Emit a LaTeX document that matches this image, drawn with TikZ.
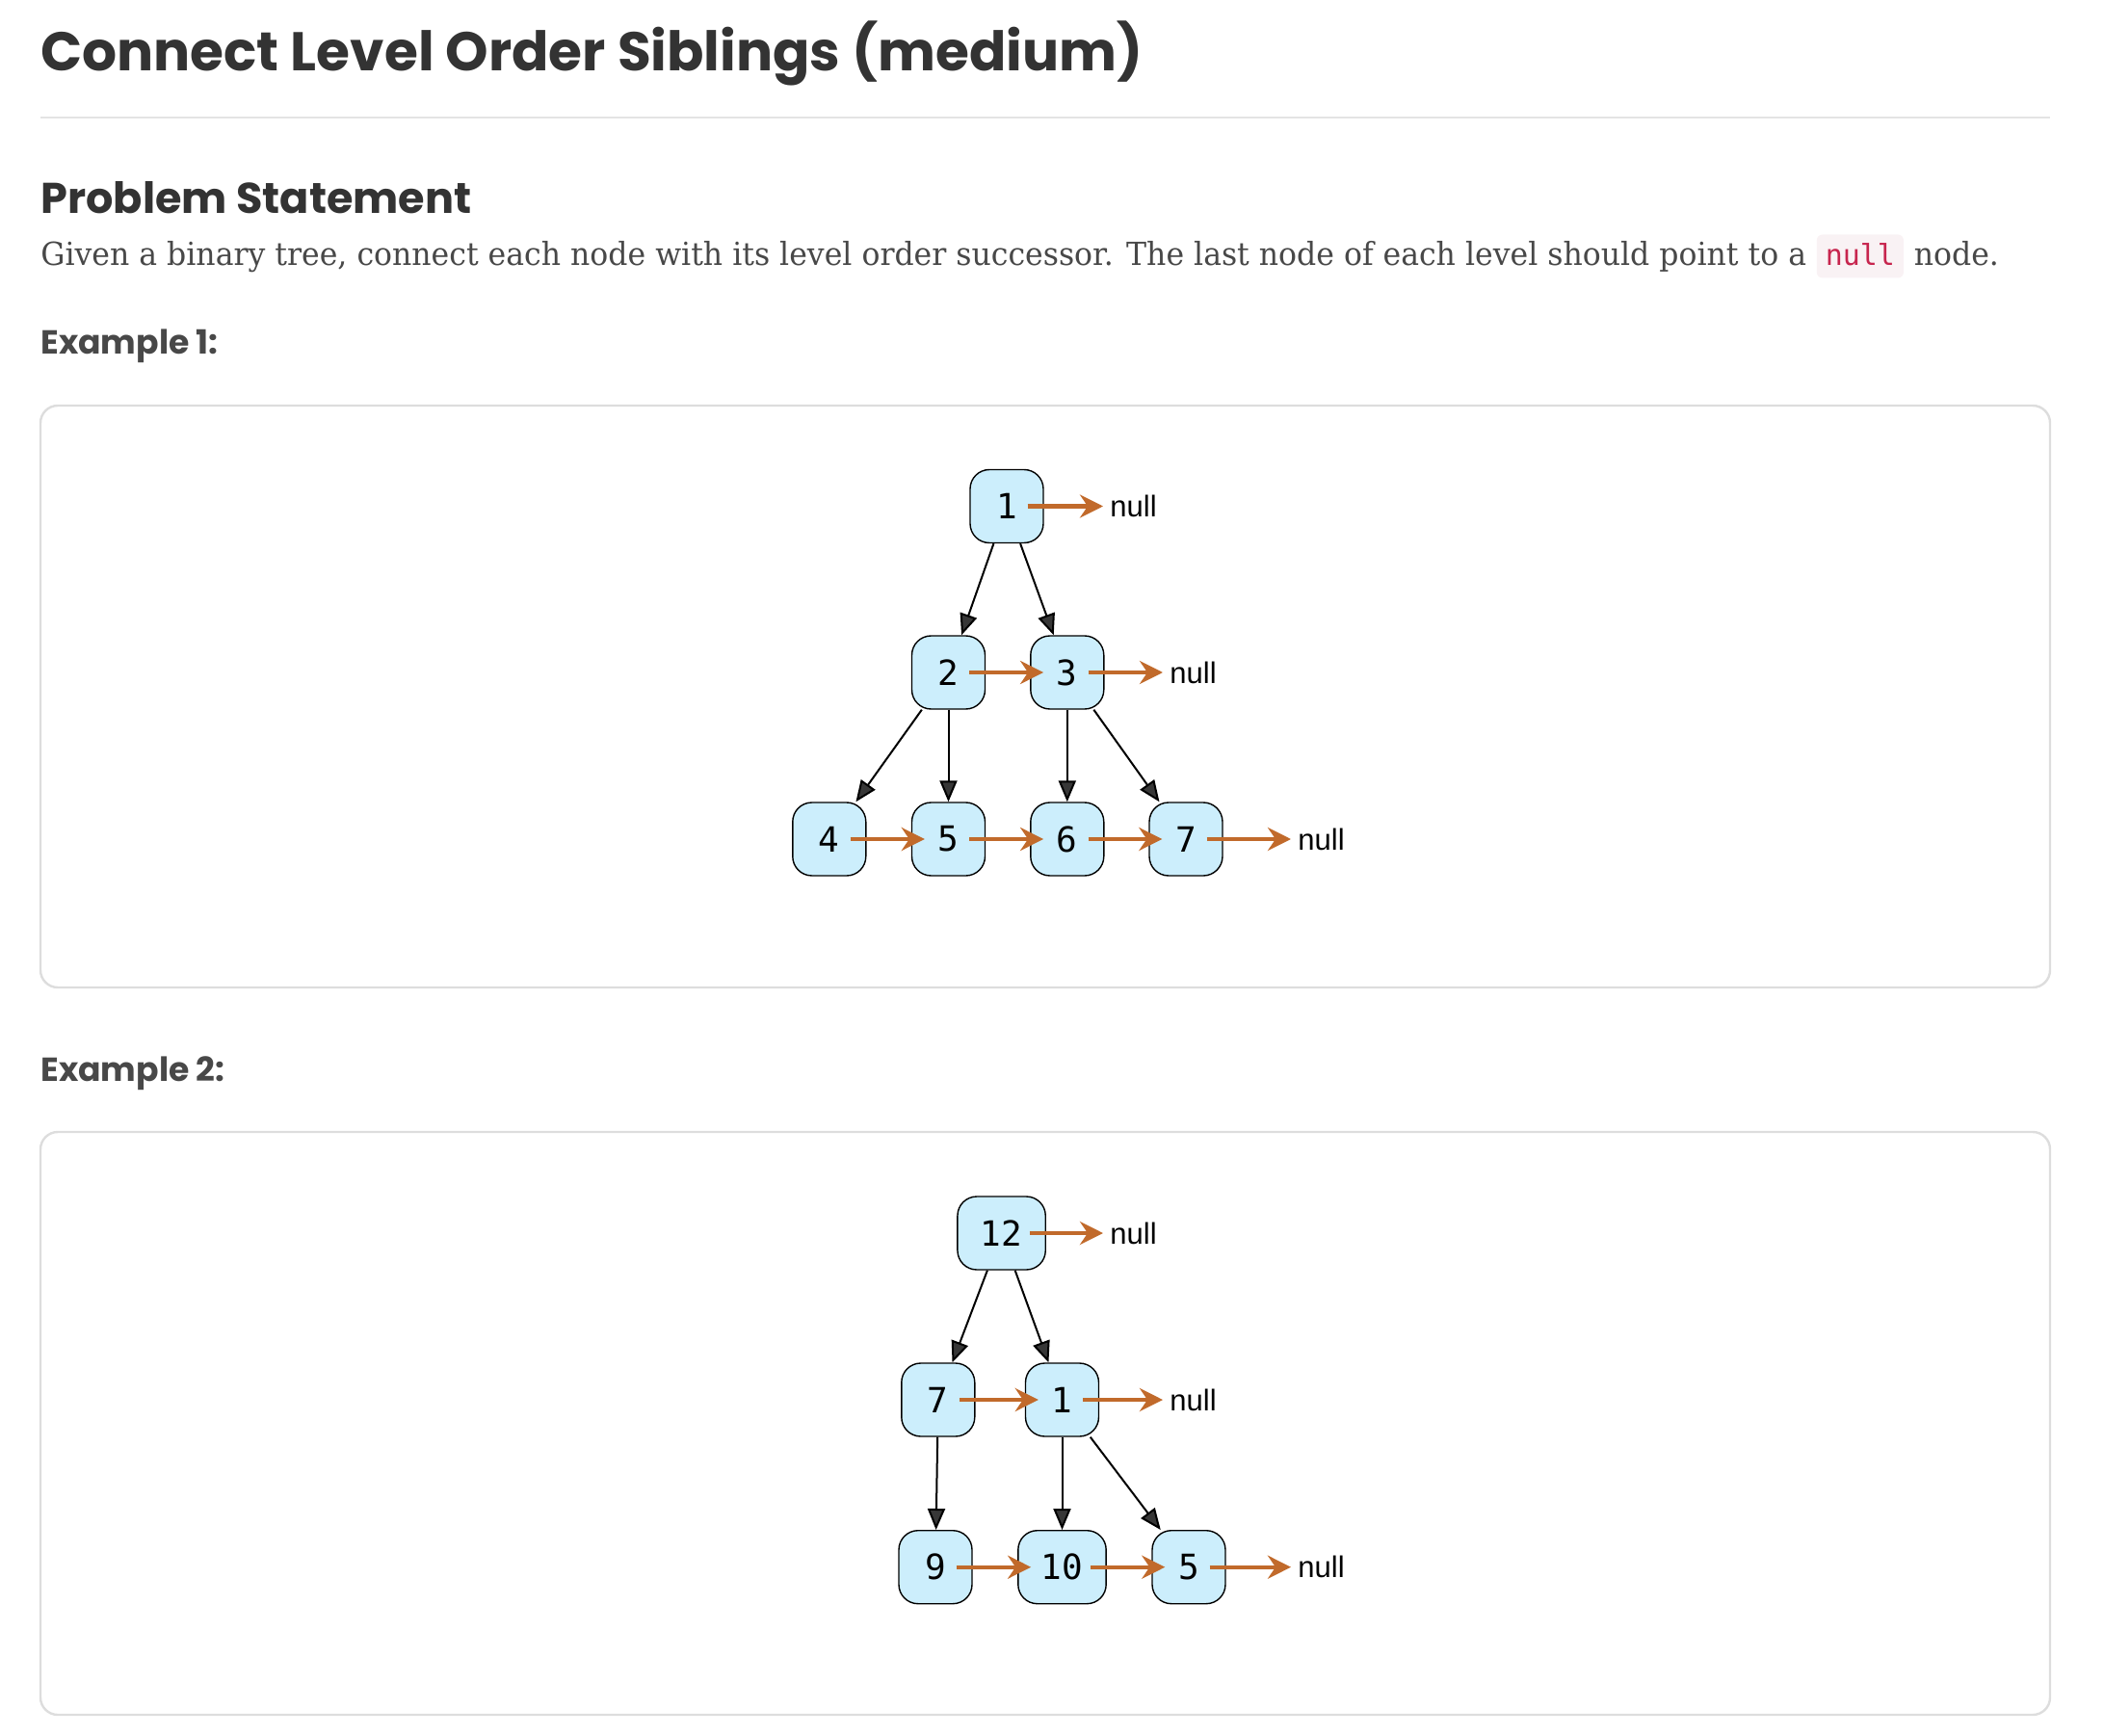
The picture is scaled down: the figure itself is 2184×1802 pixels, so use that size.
\documentclass[tikz,border=0pt]{standalone}
\usepackage{fontspec}
\usepackage{tikz}
\usetikzlibrary{arrows.meta,positioning}
\newfontfamily\headfont{Poppins}
\newfontfamily\bodyfont[FakeStretch=0.955]{DejaVu Serif}
\newfontfamily\digitfont{DejaVu Sans Mono}
\newfontfamily\nulltxtfont{Liberation Sans}
\definecolor{nodeblue}{RGB}{204,238,252}
\definecolor{linkorange}{RGB}{193,106,43}
\definecolor{tipgray}{RGB}{55,55,55}
\definecolor{framegray}{RGB}{221,221,221}
\definecolor{headgray}{RGB}{51,51,51}
\definecolor{textgray}{RGB}{72,72,72}
\definecolor{codered}{RGB}{199,37,78}
\definecolor{codebg}{RGB}{249,242,244}
\tikzset{tnode/.style={rectangle,draw=black,fill=nodeblue,rounded corners=10pt,minimum size=38pt,inner xsep=12pt,inner ysep=0pt,line width=0.7pt,font=\digitfont\fontsize{18}{18}\selectfont}}
\tikzset{nulltext/.style={anchor=west,inner sep=0pt,font=\nulltxtfont\fontsize{15.5}{15.5}\selectfont}}
\tikzset{kidarr/.style={-{Triangle[length=11pt,width=9pt,fill=tipgray]},line width=1pt}}
\tikzset{nextarr/.style={-{Stealth[length=12pt,width=12pt,inset=4pt]},draw=linkorange,line width=2.2pt,shorten <=-8.5pt,shorten >=-7pt}}
\tikzset{nullarr/.style={nextarr,shorten >=3.5pt}}
\tikzset{plain/.style={anchor=base west,inner sep=0pt}}
\tikzset{frame/.style={draw=framegray,line width=1.2pt,rounded corners=9pt}}
\begin{document}
\begin{tikzpicture}[x=0.5pt,y=-0.5pt]
  \useasboundingbox (0,0) rectangle (2184,1802);
  % page text
  \node[plain,text=headgray,font=\headfont\bfseries\fontsize{28.3}{28.3}\selectfont] (title) at (42,74) {Connect Level Order Siblings (medium)};
  \draw[draw=framegray!80,line width=1pt] (42,122.5) -- (2128,122.5);
  \node[plain,text=headgray,font=\headfont\bfseries\fontsize{22.3}{22.3}\selectfont] (head) at (42,221.7) {Problem Statement};
  \node[plain,text=textgray,font=\bodyfont\fontsize{16.5}{16.5}\selectfont] (stmt) at (42,275.5) {Given a binary tree, connect each node with its level order successor. The last node of each level should point to a};
  \node[plain,fill=codebg,rounded corners=3pt,inner xsep=4.5pt,inner ysep=4pt,text height=12pt,text depth=2.5pt,text=codered,font=\digitfont\fontsize{15}{15}\selectfont] (chip) at ([xshift=5pt]stmt.base east) {null};
  \node[plain,text=textgray,font=\bodyfont\fontsize{16.5}{16.5}\selectfont] (stmtend) at ([xshift=5pt]chip.base east) {node.};
  \node[plain,text=textgray,font=\headfont\bfseries\fontsize{17.3}{17.3}\selectfont] (ex1) at (42,368) {Example 1:};
  \node[plain,text=textgray,font=\headfont\bfseries\fontsize{17.3}{17.3}\selectfont] (ex2) at (42,1122) {Example 2:};
  \draw[frame] (42,421) rectangle (2128,1025);
  \draw[frame] (42,1175) rectangle (2128,1780);
  % example 1
  \node[tnode] (a1) at (1045,525.5) {1};
  \node[tnode] (a2) at (984.5,698) {2};
  \node[tnode] (a3) at (1107.8,698) {3};
  \node[tnode] (a4) at (860.8,871) {4};
  \node[tnode] (a5) at (984.5,871) {5};
  \node[tnode] (a6) at (1107.8,871) {6};
  \node[tnode] (a7) at (1231,871) {7};
  \node[nulltext] (anull1) at (1152,525.5) {null};
  \node[nulltext] (anull2) at (1214,698) {null};
  \node[nulltext] (anull3) at (1347,871) {null};
  \foreach \a/\b in {a1/a2,a1/a3,a2/a4,a2/a5,a3/a6,a3/a7}
    \draw[kidarr] (\a) -- (\b);
  \foreach \a/\b in {a2/a3,a4/a5,a5/a6,a6/a7}
    \draw[nextarr] (\a) -- (\b);
  \foreach \a/\b in {a1/anull1,a3/anull2,a7/anull3}
    \draw[nullarr] (\a) -- (\b);
  % example 2
  \node[tnode] (b12) at (1039.6,1280) {12};
  \node[tnode] (b7) at (973.8,1453) {7};
  \node[tnode] (b1) at (1102.5,1453) {1};
  \node[tnode] (b9) at (971,1626.7) {9};
  \node[tnode] (b10) at (1102.5,1626.7) {10};
  \node[tnode] (b5) at (1234,1626.7) {5};
  \node[nulltext] (bnull1) at (1152,1280) {null};
  \node[nulltext] (bnull2) at (1214,1453) {null};
  \node[nulltext] (bnull3) at (1347,1626.7) {null};
  \foreach \a/\b in {b12/b7,b12/b1,b7/b9,b1/b10,b1/b5}
    \draw[kidarr] (\a) -- (\b);
  \foreach \a/\b in {b7/b1,b9/b10,b10/b5}
    \draw[nextarr] (\a) -- (\b);
  \foreach \a/\b in {b12/bnull1,b1/bnull2,b5/bnull3}
    \draw[nullarr] (\a) -- (\b);
\end{tikzpicture}
\end{document}
